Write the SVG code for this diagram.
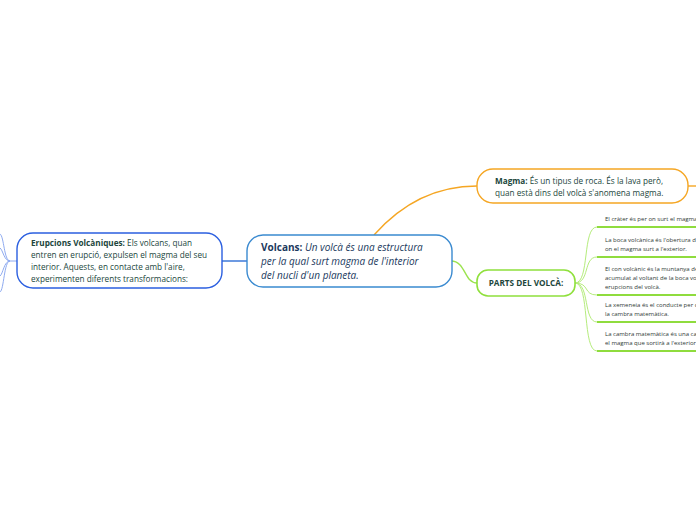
<svg xmlns="http://www.w3.org/2000/svg" width="696" height="520" viewBox="0 0 696 520">
<style>
.t{font-family:"Open Sans","Noto Sans","Liberation Sans",sans-serif}
.main{font-size:10px;fill:#1b3a5e;font-style:italic}
.sub{font-size:8.2px;fill:#21463c}
.leaf{font-size:6px;fill:#2f3a36}
.b{font-weight:bold;font-style:normal}
.cb{fill:none;stroke:#2f6fd6;stroke-width:1.4}
.cbl{fill:none;stroke:#8eaaf0;stroke-width:1}
.co{fill:none;stroke:#f5a623;stroke-width:1.4}
.cg{fill:none;stroke:#9be34f;stroke-width:1.4}
.cgl{fill:none;stroke:#b5ec7c;stroke-width:1}
.ul{stroke:#8fdc3e;stroke-width:2}
</style>
<rect width="696" height="520" fill="#ffffff"/>
<g id="connectors">
  <path class="co" d="M374,235 C405,200 440,186 477,186"/>
  <path class="co" d="M688,186 L696,186"/>
  <path class="cb" d="M222,261 L247,261"/>
  <path class="cg" d="M451,261 C466,261 464,283 477,283"/>
  <path class="cbl" d="M17,261 L10,261 C4,261 4,236 0,234"/>
  <path class="cbl" d="M10,261 C4,261 3,250 0,248"/>
  <path class="cbl" d="M10,261 C4,261 3,274 0,276"/>
  <path class="cbl" d="M10,261 C4,261 4,290 0,292"/>
  <path class="cgl" d="M575,283 C590,283 582,227 597,227"/>
  <path class="cgl" d="M575,283 C590,283 583,257 597,257"/>
  <path class="cgl" d="M575,283 C590,283 583,295 597,295"/>
  <path class="cgl" d="M575,283 C590,283 583,322 597,322"/>
  <path class="cgl" d="M575,283 C590,283 582,351 597,351"/>
</g>
<g id="central">
  <rect x="247" y="235" width="205" height="52" rx="16" fill="#ffffff" stroke="#3a8ad0" stroke-width="1.4"/>
  <text class="t main" x="261" y="251"><tspan class="b">Volcans:</tspan> Un volcà és una estructura</text>
  <text class="t main" x="261" y="265">per la qual surt magma de l'interior</text>
  <text class="t main" x="261" y="279">del nucli d'un planeta.</text>
</g>
<g id="erupcions">
  <rect x="17" y="233" width="205" height="55" rx="16" fill="#ffffff" stroke="#2b5fe0" stroke-width="1.4"/>
  <text class="t sub" x="31" y="246"><tspan class="b">Erupcions Volcàniques:</tspan> Els volcans, quan</text>
  <text class="t sub" x="31" y="258">entren en erupció, expulsen el magma del seu</text>
  <text class="t sub" x="31" y="270">interior. Aquests, en contacte amb l'aire,</text>
  <text class="t sub" x="31" y="282">experimenten diferents transformacions:</text>
</g>
<g id="magma">
  <rect x="477" y="169" width="211" height="34" rx="16" fill="#ffffff" stroke="#f5a623" stroke-width="1.4"/>
  <text class="t sub" x="495" y="184"><tspan class="b">Magma:</tspan> És un tipus de roca. És la lava però,</text>
  <text class="t sub" x="495" y="196">quan està dins del volcà s'anomena magma.</text>
</g>
<g id="parts">
  <rect x="477" y="270" width="98" height="26" rx="11" fill="#ffffff" stroke="#8fe03c" stroke-width="1.6"/>
  <text class="t sub b" x="526" y="286" text-anchor="middle">PARTS DEL VOLCÀ:</text>
</g>
<g id="leaf1">
  <line class="ul" x1="597" y1="227" x2="696" y2="227"/>
  <text class="t leaf" x="605" y="221">El cràter és per on surt el magma</text>
</g>
<g id="leaf2">
  <line class="ul" x1="597" y1="257" x2="696" y2="257"/>
  <text class="t leaf" x="605" y="242">La boca volcànica és l'obertura de</text>
  <text class="t leaf" x="605" y="251">on el magma surt a l'exterior.</text>
</g>
<g id="leaf3">
  <line class="ul" x1="597" y1="295" x2="696" y2="295"/>
  <text class="t leaf" x="605" y="271">El con volcànic és la muntanya de</text>
  <text class="t leaf" x="605" y="280">acumulat al voltant de la boca vo</text>
  <text class="t leaf" x="605" y="289">erupcions del volcà.</text>
</g>
<g id="leaf4">
  <line class="ul" x1="597" y1="322" x2="696" y2="322"/>
  <text class="t leaf" x="605" y="307">La xemeneia és el conducte per o</text>
  <text class="t leaf" x="605" y="316">la cambra matemàtica.</text>
</g>
<g id="leaf5">
  <line class="ul" x1="597" y1="351" x2="696" y2="351"/>
  <text class="t leaf" x="605" y="336">La cambra matemàtica és una ca</text>
  <text class="t leaf" x="605" y="345">el magma que sortirà a l'exterior</text>
</g>
</svg>
